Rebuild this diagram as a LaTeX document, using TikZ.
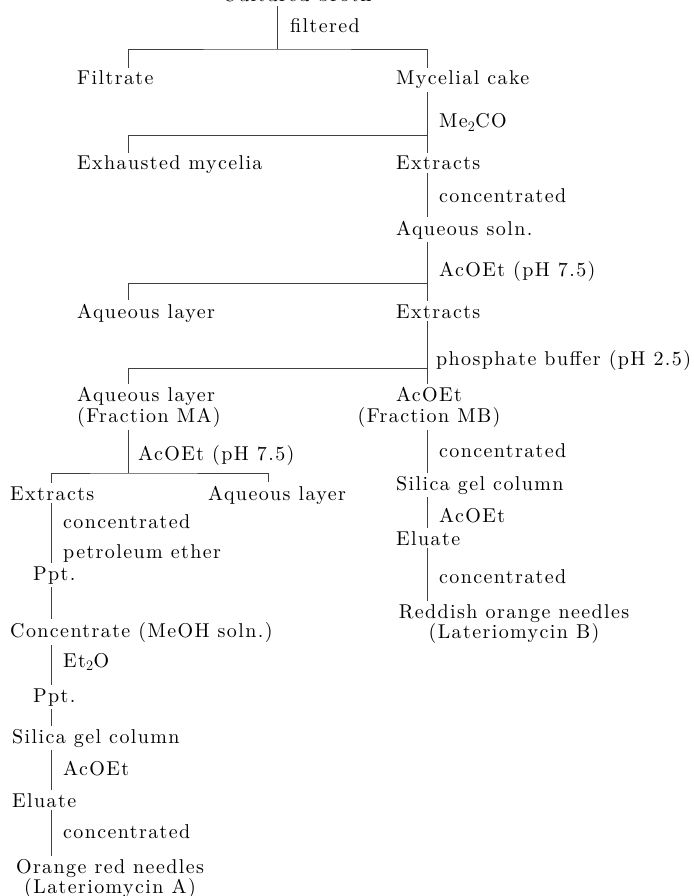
\documentclass[tikz,border=0pt]{standalone}
\usepackage{fontspec}
\setmainfont{lmroman10-regular.otf}[LetterSpace=7]
\usepackage{tikz}

\begin{document}
\begin{tikzpicture}[x=1pt,
            y=-1pt,
            txt/.style={font=\fontsize{20}{20.5}\selectfont,
                        inner xsep=0pt,inner ysep=3pt},
            item/.style={txt,anchor=base west},
            lbl/.style={txt,anchor=base west},
            pair/.style={txt,anchor=north,align=center},
            conn/.style={draw=black!75,line width=0.7pt}]

        \useasboundingbox (0,0) rectangle (693,896);

        % trunk columns and split points
        \coordinate (colL)  at (128,0);
        \coordinate (colR)  at (427,0);
        \coordinate (colLL) at (51,0);
        \coordinate (colLM) at (268,0);
        \coordinate (j1) at (277,49);
        \coordinate (j2) at (427,135);
        \coordinate (j3) at (427,283);
        \coordinate (j4) at (427,368);
        \coordinate (j5) at (128,473);

        \node[item] (broth)    at (222,2)   {Cultured broth};
        \node[item] (filtrate) at (77,85)   {Filtrate};
        \node[item] (cake)     at (396,85)  {Mycelial cake};
        \node[item] (exh)      at (77,170)  {Exhausted mycelia};
        \node[item] (ext1)     at (396,170) {Extracts};
        \node[item] (aqs)      at (396,235) {Aqueous soln.};
        \node[item] (aql1)     at (77,318)  {Aqueous layer};
        \node[item] (ext2)     at (396,318) {Extracts};
        \node[pair,anchor=north west,align=left] (fracMA) at (77,384) {Aqueous layer\\(Fraction MA)};
        \node[pair] (fracMB)   at (429,384) {AcOEt\\(Fraction MB)};
        \node[item] (ext3)     at (10,500)  {Extracts};
        \node[item] (aql2)     at (208,500) {Aqueous layer};
        \node[item] (ppt1)     at (33,580)  {Ppt.};
        \node[item] (meoh)     at (10,637)  {Concentrate (MeOH soln.)};
        \node[item] (ppt2)     at (33,702)  {Ppt.};
        \node[item] (silA)     at (12,743)  {Silica gel column};
        \node[item] (eluA)     at (12,807)  {Eluate};
        \node[pair] (needA)    at (110,856) {Orange red needles\\(Lateriomycin A)};
        \node[item] (silB)     at (396,490) {Silica gel column};
        \node[item] (eluB)     at (396,545) {Eluate};
        \node[pair] (needB)    at (514,601) {Reddish orange needles\\(Lateriomycin B)};

        % reagents and steps
        \node[lbl] (filt)  at (290,33)  {filtered};
        \node[lbl] (acet)  at (439,128) {Me$_2$CO};
        \node[lbl] (conc1) at (439,203) {concentrated};
        \node[lbl] (etac1) at (439,276) {AcOEt (pH 7.5)};
        \node[lbl] (phos)  at (436,365) {phosphate buffer (pH 2.5)};
        \node[lbl] (etac2) at (138,460) {AcOEt (pH 7.5)};
        \node[lbl] (conc2) at (63,528)  {concentrated};
        \node[lbl] (petr)  at (63,558)  {petroleum ether};
        \node[lbl] (ether) at (63,667)  {Et$_2$O};
        \node[lbl] (etac3) at (63,775)  {AcOEt};
        \node[lbl] (conc3) at (63,838)  {concentrated};
        \node[lbl] (conc4) at (439,457) {concentrated};
        \node[lbl] (etac4) at (439,522) {AcOEt};
        \node[lbl] (conc5) at (439,583) {concentrated};

        % splits
        \draw[conn] (broth.south -| j1) -- (j1);
        \draw[conn] (filtrate.north -| colL) |- (j1) -| (cake.north -| colR);
        \draw[conn] (cake.south -| colR) -- (ext1.north -| colR);
        \draw[conn] (exh.north -| colL) |- (j2);
        \draw[conn] (ext1.south -| colR) -- (aqs.north -| colR);
        \draw[conn] (aqs.south -| colR) -- (ext2.north -| colR);
        \draw[conn] (aql1.north -| colL) |- (j3);
        \draw[conn] (ext2.south -| colR) -- (fracMB.north -| colR);
        \draw[conn] (fracMA.north -| colL) |- (j4);
        \draw[conn] (fracMA.south -| colL) -- (j5);
        \draw[conn] (ext3.north -| colLL) |- (j5) -| (aql2.north -| colLM);

        % Fraction MA
        \draw[conn] (ext3.south -| colLL) -- (ppt1.north -| colLL);
        \draw[conn] (ppt1.south -| colLL) -- (meoh.north -| colLL);
        \draw[conn] (meoh.south -| colLL) -- (ppt2.north -| colLL);
        \draw[conn] (ppt2.south -| colLL) -- (silA.north -| colLL);
        \draw[conn] (silA.south -| colLL) -- (eluA.north -| colLL);
        \draw[conn] (eluA.south -| colLL) -- (needA.north -| colLL);

        % Fraction MB
        \draw[conn] (fracMB.south -| colR) -- (silB.north -| colR);
        \draw[conn] (silB.south -| colR) -- (eluB.north -| colR);
        \draw[conn] (eluB.south -| colR) -- (needB.north -| colR);

    \end{tikzpicture}
\end{document}
